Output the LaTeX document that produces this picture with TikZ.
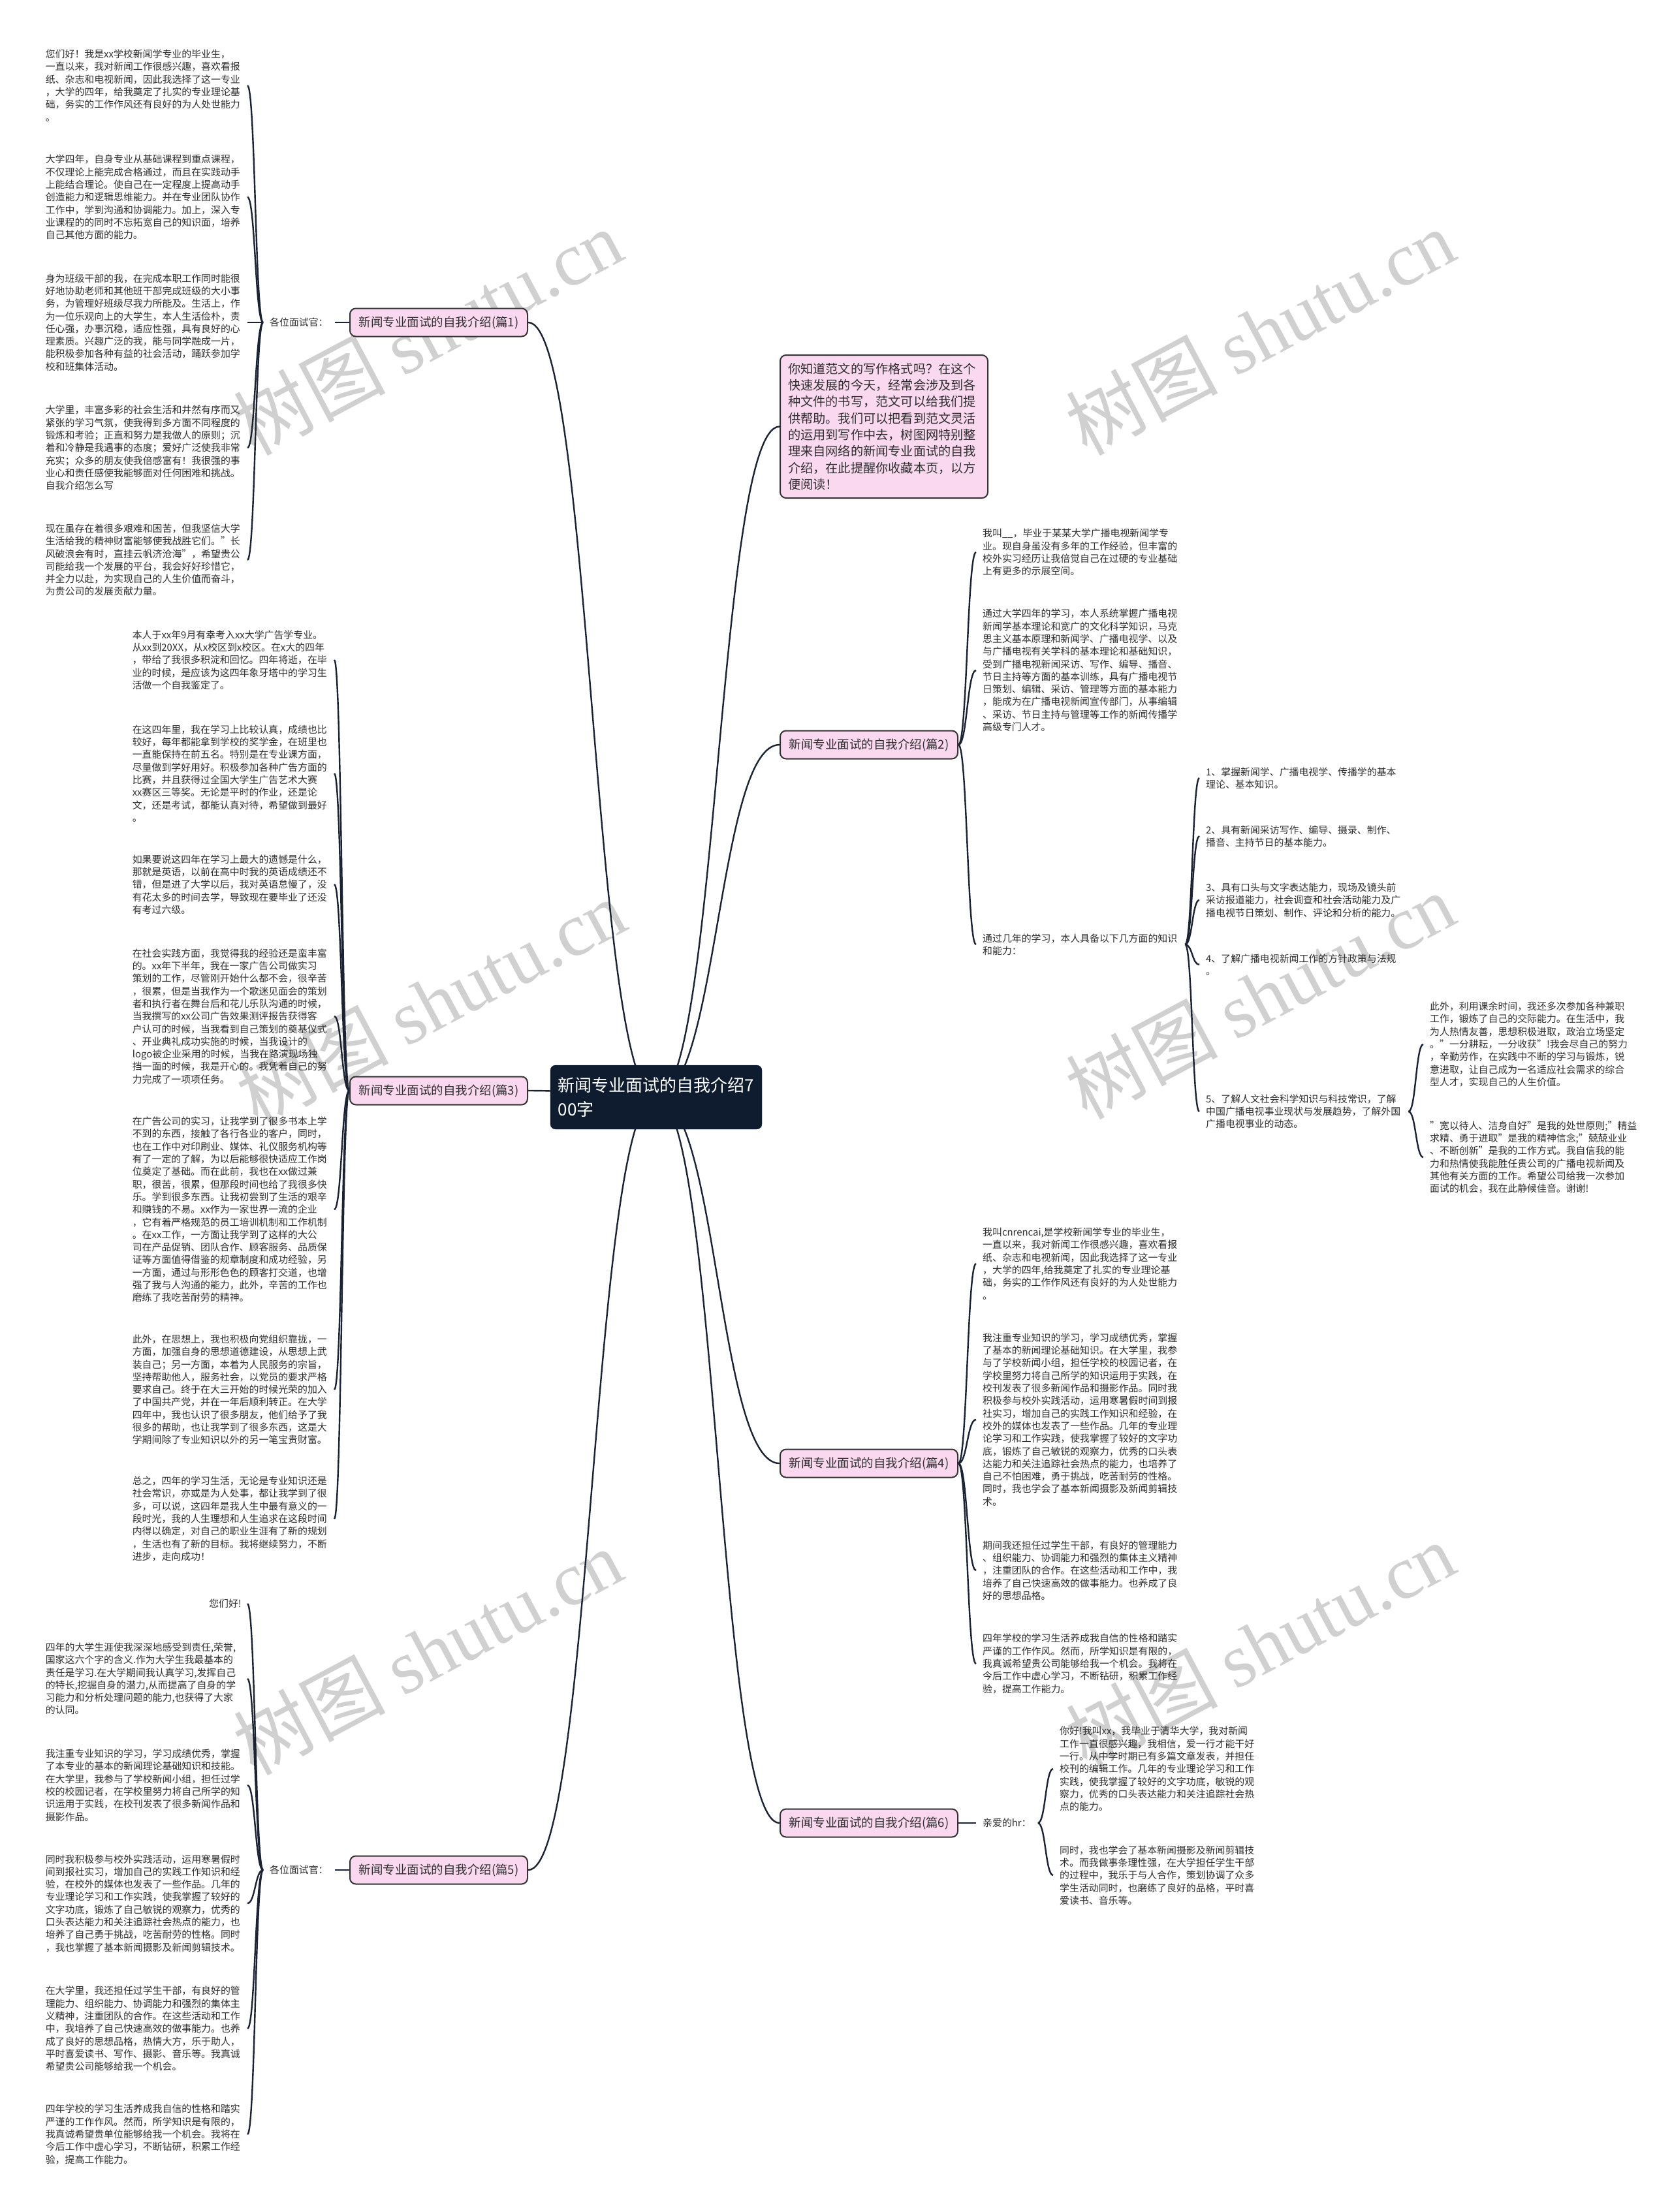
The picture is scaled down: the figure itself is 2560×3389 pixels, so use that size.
\documentclass[tikz,border=0pt]{standalone}
\usepackage{fontspec}
\setmainfont{Noto Sans CJK SC}
\newfontfamily\wmlatin{Liberation Serif}
\usetikzlibrary{calc,backgrounds}

\definecolor{txt}{HTML}{2E2E2E}
\definecolor{linec}{HTML}{1B2333}
\definecolor{rootc}{HTML}{0F1C2F}
\definecolor{pinkfill}{HTML}{F9D8F0}
\definecolor{boxline}{HTML}{333333}
\definecolor{wmc}{HTML}{D0D0D0}

% curved connector, parent anchor -> child anchor
\newcommand{\branchlink}[2]{%
  \path ($(#1)!0.5!(#2)$) coordinate (mid);
  \draw[edge] (#1) .. controls (mid |- #1) and (mid |- #2) .. (#2);
}

\begin{document}
\begin{tikzpicture}[
    x=1pt, y=-1pt,
    every node/.style={inner sep=0pt, text=txt},
    edge/.style={line width=2.4pt, draw=linec},
    root/.style={fill=rootc, draw=rootc, rounded corners=8pt, text=white, align=left,
      font=\fontsize{26}{37}\selectfont, minimum width=324pt, minimum height=98pt},
    box/.style={fill=pinkfill, draw=boxline, line width=2pt, rounded corners=9pt,
      font=\fontsize{18.5}{23}\selectfont, minimum width=272pt, minimum height=43pt},
    intro/.style={box, align=left, text width=294pt, inner xsep=12pt, inner ysep=12pt,
      font=\fontsize{19.2}{25.3}\selectfont},
    leaf/.style={font=\fontsize{14.9}{19.3}\selectfont, align=left, inner xsep=9pt},
    para/.style={leaf, text width=300pt},
    wm/.style={text=wmc, rotate=28, font=\fontsize{116}{116}\selectfont}
]
\useasboundingbox (0,0) rectangle (2560,3389);

% centre and main branches
\node[root] (root) at (1005,1681) {新闻专业面试的自我介绍7\\00字};

\node[box, anchor=east] (b1) at (809,494) {新闻专业面试的自我介绍(篇1)};
\node[box, anchor=east] (b3) at (809,1671) {新闻专业面试的自我介绍(篇3)};
\node[box, anchor=east] (b5) at (809,2865) {新闻专业面试的自我介绍(篇5)};

\node[intro, anchor=north west] (intro) at (1194,543) {你知道范文的写作格式吗？在这个\\快速发展的今天，经常会涉及到各\\种文件的书写，范文可以给我们提\\供帮助。我们可以把看到范文灵活\\的运用到写作中去，树图网特别整\\理来自网络的新闻专业面试的自我\\介绍，在此提醒你收藏本页，以方\\便阅读！};
\node[box, anchor=west] (b2) at (1194,1141) {新闻专业面试的自我介绍(篇2)};
\node[box, anchor=west] (b4) at (1194,2242) {新闻专业面试的自我介绍(篇4)};
\node[box, anchor=west] (b6) at (1194,2793) {新闻专业面试的自我介绍(篇6)};

% 篇1
\node[leaf, anchor=west, inner xsep=10pt] (b1g) at (403,494) {各位面试官：};
\node[para, anchor=east] (b1p1) at (379,131) {您们好！我是xx学校新闻学专业的毕业生，\\一直以来，我对新闻工作很感兴趣，喜欢看报\\纸、杂志和电视新闻，因此我选择了这一专业\\，大学的四年，给我奠定了扎实的专业理论基\\础，务实的工作作风还有良好的为人处世能力\\。};
\node[para, anchor=east] (b1p2) at (379,302) {大学四年，自身专业从基础课程到重点课程，\\不仅理论上能完成合格通过，而且在实践动手\\上能结合理论。使自己在一定程度上提高动手\\创造能力和逻辑思维能力。并在专业团队协作\\工作中，学到沟通和协调能力。加上，深入专\\业课程的的同时不忘拓宽自己的知识面，培养\\自己其他方面的能力。};
\node[para, anchor=east] (b1p3) at (379,494) {身为班级干部的我，在完成本职工作同时能很\\好地协助老师和其他班干部完成班级的大小事\\务，为管理好班级尽我力所能及。生活上，作\\为一位乐观向上的大学生，本人生活俭朴，责\\任心强，办事沉稳，适应性强，具有良好的心\\理素质。兴趣广泛的我，能与同学融成一片，\\能积极参加各种有益的社会活动，踊跃参加学\\校和班集体活动。};
\node[para, anchor=east] (b1p4) at (379,686) {大学里，丰富多彩的社会生活和井然有序而又\\紧张的学习气氛，使我得到多方面不同程度的\\锻炼和考验；正直和努力是我做人的原则；沉\\着和冷静是我遇事的态度；爱好广泛使我非常\\充实；众多的朋友使我倍感富有！我很强的事\\业心和责任感使我能够面对任何困难和挑战。\\自我介绍怎么写};
\node[para, anchor=east] (b1p5) at (379,858) {现在虽存在着很多艰难和困苦，但我坚信大学\\生活给我的精神财富能够使我战胜它们。"长\\风破浪会有时，直挂云帆济沧海"，希望贵公\\司能给我一个发展的平台，我会好好珍惜它，\\并全力以赴，为实现自己的人生价值而奋斗，\\为贵公司的发展贡献力量。};

% 篇3
\node[para, anchor=east] (b3p1) at (512,1011) {本人于xx年9月有幸考入xx大学广告学专业。\\从xx到20XX，从x校区到x校区。在x大的四年\\，带给了我很多积淀和回忆。四年将逝，在毕\\业的时候，是应该为这四年象牙塔中的学习生\\活做一个自我鉴定了。};
\node[para, anchor=east] (b3p2) at (512,1185) {在这四年里，我在学习上比较认真，成绩也比\\较好，每年都能拿到学校的奖学金，在班里也\\一直能保持在前五名。特别是在专业课方面，\\尽量做到学好用好。积极参加各种广告方面的\\比赛，并且获得过全国大学生广告艺术大赛\\xx赛区三等奖。无论是平时的作业，还是论\\文，还是考试，都能认真对待，希望做到最好\\。};
\node[para, anchor=east] (b3p3) at (512,1355) {如果要说这四年在学习上最大的遗憾是什么，\\那就是英语，以前在高中时我的英语成绩还不\\错，但是进了大学以后，我对英语怠慢了，没\\有花太多的时间去学，导致现在要毕业了还没\\有考过六级。};
\node[para, anchor=east] (b3p4) at (512,1557) {在社会实践方面，我觉得我的经验还是蛮丰富\\的。xx年下半年，我在一家广告公司做实习\\策划的工作，尽管刚开始什么都不会，很辛苦\\，很累，但是当我作为一个歌迷见面会的策划\\者和执行者在舞台后和花儿乐队沟通的时候，\\当我撰写的xx公司广告效果测评报告获得客\\户认可的时候，当我看到自己策划的奠基仪式\\、开业典礼成功实施的时候，当我设计的\\logo被企业采用的时候，当我在路演现场独\\挡一面的时候，我是开心的。我凭着自己的努\\力完成了一项项任务。};
\node[para, anchor=east] (b3p5) at (512,1853) {在广告公司的实习，让我学到了很多书本上学\\不到的东西，接触了各行各业的客户，同时，\\也在工作中对印刷业、媒体、礼仪服务机构等\\有了一定的了解，为以后能够很快适应工作岗\\位奠定了基础。而在此前，我也在xx做过兼\\职，很苦，很累，但那段时间也给了我很多快\\乐。学到很多东西。让我初尝到了生活的艰辛\\和赚钱的不易。xx作为一家世界一流的企业\\，它有着严格规范的员工培训机制和工作机制\\。在xx工作，一方面让我学到了这样的大公\\司在产品促销、团队合作、顾客服务、品质保\\证等方面值得借鉴的规章制度和成功经验，另\\一方面，通过与形形色色的顾客打交道，也增\\强了我与人沟通的能力，此外，辛苦的工作也\\磨练了我吃苦耐劳的精神。};
\node[para, anchor=east] (b3p6) at (512,2129) {此外，在思想上，我也积极向党组织靠拢，一\\方面，加强自身的思想道德建设，从思想上武\\装自己；另一方面，本着为人民服务的宗旨，\\坚持帮助他人，服务社会，以党员的要求严格\\要求自己。终于在大三开始的时候光荣的加入\\了中国共产党，并在一年后顺利转正。在大学\\四年中，我也认识了很多朋友，他们给予了我\\很多的帮助，也让我学到了很多东西，这是大\\学期间除了专业知识以外的另一笔宝贵财富。};
\node[para, anchor=east] (b3p7) at (512,2327) {总之，四年的学习生活，无论是专业知识还是\\社会常识，亦或是为人处事，都让我学到了很\\多，可以说，这四年是我人生中最有意义的一\\段时光，我的人生理想和人生追求在这段时间\\内得以确定，对自己的职业生涯有了新的规划\\，生活也有了新的目标。我将继续努力，不断\\进步，走向成功！};

% 篇5
\node[leaf, anchor=west, inner xsep=10pt] (b5g) at (403,2865) {各位面试官：};
\node[leaf, anchor=east] (b5p1) at (379,2457) {您们好!};
\node[para, anchor=east] (b5p2) at (379,2572) {四年的大学生涯使我深深地感受到责任,荣誉,\\国家这六个字的含义.作为大学生我最基本的\\责任是学习.在大学期间我认真学习,发挥自己\\的特长,挖掘自身的潜力,从而提高了自身的学\\习能力和分析处理问题的能力,也获得了大家\\的认同。};
\node[para, anchor=east] (b5p3) at (379,2735) {我注重专业知识的学习，学习成绩优秀，掌握\\了本专业的基本的新闻理论基础知识和技能。\\在大学里，我参与了学校新闻小组，担任过学\\校的校园记者，在学校里努力将自己所学的知\\识运用于实践，在校刊发表了很多新闻作品和\\摄影作品。};
\node[para, anchor=east] (b5p4) at (379,2916) {同时我积极参与校外实践活动，运用寒暑假时\\间到报社实习，增加自己的实践工作知识和经\\验，在校外的媒体也发表了一些作品。几年的\\专业理论学习和工作实践，使我掌握了较好的\\文字功底，锻炼了自己敏锐的观察力，优秀的\\口头表达能力和关注追踪社会热点的能力，也\\培养了自己勇于挑战，吃苦耐劳的性格。同时\\，我也掌握了基本新闻摄影及新闻剪辑技术。};
\node[para, anchor=east] (b5p5) at (379,3108) {在大学里，我还担任过学生干部，有良好的管\\理能力、组织能力、协调能力和强烈的集体主\\义精神，注重团队的合作。在这些活动和工作\\中，我培养了自己快速高效的做事能力。也养\\成了良好的思想品格，热情大方，乐于助人，\\平时喜爱读书、写作、摄影、音乐等。我真诚\\希望贵公司能够给我一个机会。};
\node[para, anchor=east] (b5p6) at (379,3270) {四年学校的学习生活养成我自信的性格和踏实\\严谨的工作作风。然而，所学知识是有限的，\\我真诚希望贵单位能够给我一个机会。我将在\\今后工作中虚心学习，不断钻研，积累工作经\\验，提高工作能力。};

% 篇2
\node[para, anchor=west, inner xsep=10pt] (b2p1) at (1495,846) {我叫\_\_，毕业于某某大学广播电视新闻学专\\业。现自身虽没有多年的工作经验，但丰富的\\校外实习经历让我倍觉自己在过硬的专业基础\\上有更多的示展空间。};
\node[para, anchor=west, inner xsep=10pt] (b2p2) at (1495,1027) {通过大学四年的学习，本人系统掌握广播电视\\新闻学基本理论和宽广的文化科学知识，马克\\思主义基本原理和新闻学、广播电视学、以及\\与广播电视有关学科的基本理论和基础知识，\\受到广播电视新闻采访、写作、编导、播音、\\节日主持等方面的基本训练，具有广播电视节\\日策划、编辑、采访、管理等方面的基本能力\\，能成为在广播电视新闻宣传部门，从事编辑\\、采访、节日主持与管理等工作的新闻传播学\\高级专门人才。};
\node[para, anchor=west, inner xsep=10pt] (b2p3) at (1495,1447) {通过几年的学习，本人具备以下几方面的知识\\和能力：};
\node[para, anchor=west, inner xsep=10pt] (b2l1) at (1837,1192) {1、掌握新闻学、广播电视学、传播学的基本\\理论、基本知识。};
\node[para, anchor=west, inner xsep=10pt] (b2l2) at (1837,1281) {2、具有新闻采访写作、编导、摄录、制作、\\播音、主持节日的基本能力。};
\node[para, anchor=west, inner xsep=10pt] (b2l3) at (1837,1379) {3、具有口头与文字表达能力，现场及镜头前\\采访报道能力，社会调查和社会活动能力及广\\播电视节日策划、制作、评论和分析的能力。};
\node[para, anchor=west, inner xsep=10pt] (b2l4) at (1837,1478) {4、了解广播电视新闻工作的方针政策与法规\\。};
\node[para, anchor=west, inner xsep=10pt] (b2l5) at (1837,1703) {5、了解人文社会科学知识与科技常识，了解\\中国广播电视事业现状与发展趋势，了解外国\\广播电视事业的动态。};
\node[para, anchor=west, inner xsep=10pt] (b2r1) at (2180,1600) {此外，利用课余时间，我还多次参加各种兼职\\工作，锻炼了自己的交际能力。在生活中，我\\为人热情友善，思想积极进取，政治立场坚定\\。"一分耕耘，一分收获"!我会尽自己的努力\\，辛勤劳作，在实践中不断的学习与锻炼，锐\\意进取，让自己成为一名适应社会需求的综合\\型人才，实现自己的人生价值。};
\node[para, anchor=west, inner xsep=10pt] (b2r2) at (2180,1773) {"宽以待人、洁身自好"是我的处世原则;"精益\\求精、勇于进取"是我的精神信念;"兢兢业业\\、不断创新"是我的工作方式。我自信我的能\\力和热情使我能胜任贵公司的广播电视新闻及\\其他有关方面的工作。希望公司给我一次参加\\面试的机会，我在此静候佳音。谢谢!};

% 篇4
\node[para, anchor=west, inner xsep=10pt] (b4p1) at (1495,1936) {我叫cnrencai,是学校新闻学专业的毕业生，\\一直以来，我对新闻工作很感兴趣，喜欢看报\\纸、杂志和电视新闻，因此我选择了这一专业\\，大学的四年,给我奠定了扎实的专业理论基\\础，务实的工作作风还有良好的为人处世能力\\。};
\node[para, anchor=west, inner xsep=10pt] (b4p2) at (1495,2175) {我注重专业知识的学习，学习成绩优秀，掌握\\了基本的新闻理论基础知识。在大学里，我参\\与了学校新闻小组，担任学校的校园记者，在\\学校里努力将自己所学的知识运用于实践，在\\校刊发表了很多新闻作品和摄影作品。同时我\\积极参与校外实践活动，运用寒暑假时间到报\\社实习，增加自己的实践工作知识和经验，在\\校外的媒体也发表了一些作品。几年的专业理\\论学习和工作实践，使我掌握了较好的文字功\\底，锻炼了自己敏锐的观察力，优秀的口头表\\达能力和关注追踪社会热点的能力，也培养了\\自己不怕困难，勇于挑战，吃苦耐劳的性格。\\同时，我也学会了基本新闻摄影及新闻剪辑技\\术。};
\node[para, anchor=west, inner xsep=10pt] (b4p3) at (1495,2406) {期间我还担任过学生干部，有良好的管理能力\\、组织能力、协调能力和强烈的集体主义精神\\，注重团队的合作。在这些活动和工作中，我\\培养了自己快速高效的做事能力。也养成了良\\好的思想品格。};
\node[para, anchor=west, inner xsep=10pt] (b4p4) at (1495,2549) {四年学校的学习生活养成我自信的性格和踏实\\严谨的工作作风。然而，所学知识是有限的，\\我真诚希望贵公司能够给我一个机会。我将在\\今后工作中虚心学习，不断钻研，积累工作经\\验，提高工作能力。};

% 篇6
\node[leaf, anchor=west, inner xsep=10pt] (b6g) at (1495,2793) {亲爱的hr：};
\node[para, anchor=west, inner xsep=10pt] (b6a) at (1613,2710) {你好!我叫xx，我毕业于清华大学，我对新闻\\工作一直很感兴趣，我相信，爱一行才能干好\\一行。从中学时期已有多篇文章发表，并担任\\校刊的编辑工作。几年的专业理论学习和工作\\实践，使我掌握了较好的文字功底，敏锐的观\\察力，优秀的口头表达能力和关注追踪社会热\\点的能力。};
\node[para, anchor=west, inner xsep=10pt] (b6b) at (1613,2873) {同时，我也学会了基本新闻摄影及新闻剪辑技\\术。而我做事条理性强，在大学担任学生干部\\的过程中，我乐于与人合作，策划协调了众多\\学生活动同时，也磨练了良好的品格，平时喜\\爱读书、音乐等。};

% watermark
\begin{scope}[on background layer]
\fill[white] (0,0) rectangle (2560,3389);
\node[wm] (wm1) at (655,508) {树图 {\wmlatin shutu.cn}};
\node[wm] (wm2) at (1930,508) {树图 {\wmlatin shutu.cn}};
\node[wm] (wm3) at (660,1535) {树图 {\wmlatin shutu.cn}};
\node[wm] (wm4) at (1930,1525) {树图 {\wmlatin shutu.cn}};
\node[wm] (wm5) at (655,2530) {树图 {\wmlatin shutu.cn}};
\node[wm] (wm6) at (1930,2520) {树图 {\wmlatin shutu.cn}};
\node[wm] (wm7) at (655,3550) {树图 {\wmlatin shutu.cn}};
\node[wm] (wm8) at (1930,3550) {树图 {\wmlatin shutu.cn}};
\end{scope}

% connectors
\begin{scope}[on background layer]
\branchlink{root.center}{b1.east}
\branchlink{root.center}{b3.east}
\branchlink{root.center}{b5.east}
\branchlink{root.center}{intro.west}
\branchlink{root.center}{b2.west}
\branchlink{root.center}{b4.west}
\branchlink{root.center}{b6.west}

\branchlink{b1.west}{b1g.east}
\branchlink{b1g.west}{b1p1.east}
\branchlink{b1g.west}{b1p2.east}
\branchlink{b1g.west}{b1p3.east}
\branchlink{b1g.west}{b1p4.east}
\branchlink{b1g.west}{b1p5.east}

\branchlink{b3.west}{b3p1.east}
\branchlink{b3.west}{b3p2.east}
\branchlink{b3.west}{b3p3.east}
\branchlink{b3.west}{b3p4.east}
\branchlink{b3.west}{b3p5.east}
\branchlink{b3.west}{b3p6.east}
\branchlink{b3.west}{b3p7.east}

\branchlink{b5.west}{b5g.east}
\branchlink{b5g.west}{b5p1.east}
\branchlink{b5g.west}{b5p2.east}
\branchlink{b5g.west}{b5p3.east}
\branchlink{b5g.west}{b5p4.east}
\branchlink{b5g.west}{b5p5.east}
\branchlink{b5g.west}{b5p6.east}

\branchlink{b2.east}{b2p1.west}
\branchlink{b2.east}{b2p2.west}
\branchlink{b2.east}{b2p3.west}
\branchlink{b2p3.east}{b2l1.west}
\branchlink{b2p3.east}{b2l2.west}
\branchlink{b2p3.east}{b2l3.west}
\branchlink{b2p3.east}{b2l4.west}
\branchlink{b2p3.east}{b2l5.west}
\branchlink{b2l5.east}{b2r1.west}
\branchlink{b2l5.east}{b2r2.west}

\branchlink{b4.east}{b4p1.west}
\branchlink{b4.east}{b4p2.west}
\branchlink{b4.east}{b4p3.west}
\branchlink{b4.east}{b4p4.west}

\branchlink{b6.east}{b6g.west}
\branchlink{b6g.east}{b6a.west}
\branchlink{b6g.east}{b6b.west}
\end{scope}
\end{tikzpicture}
\end{document}
